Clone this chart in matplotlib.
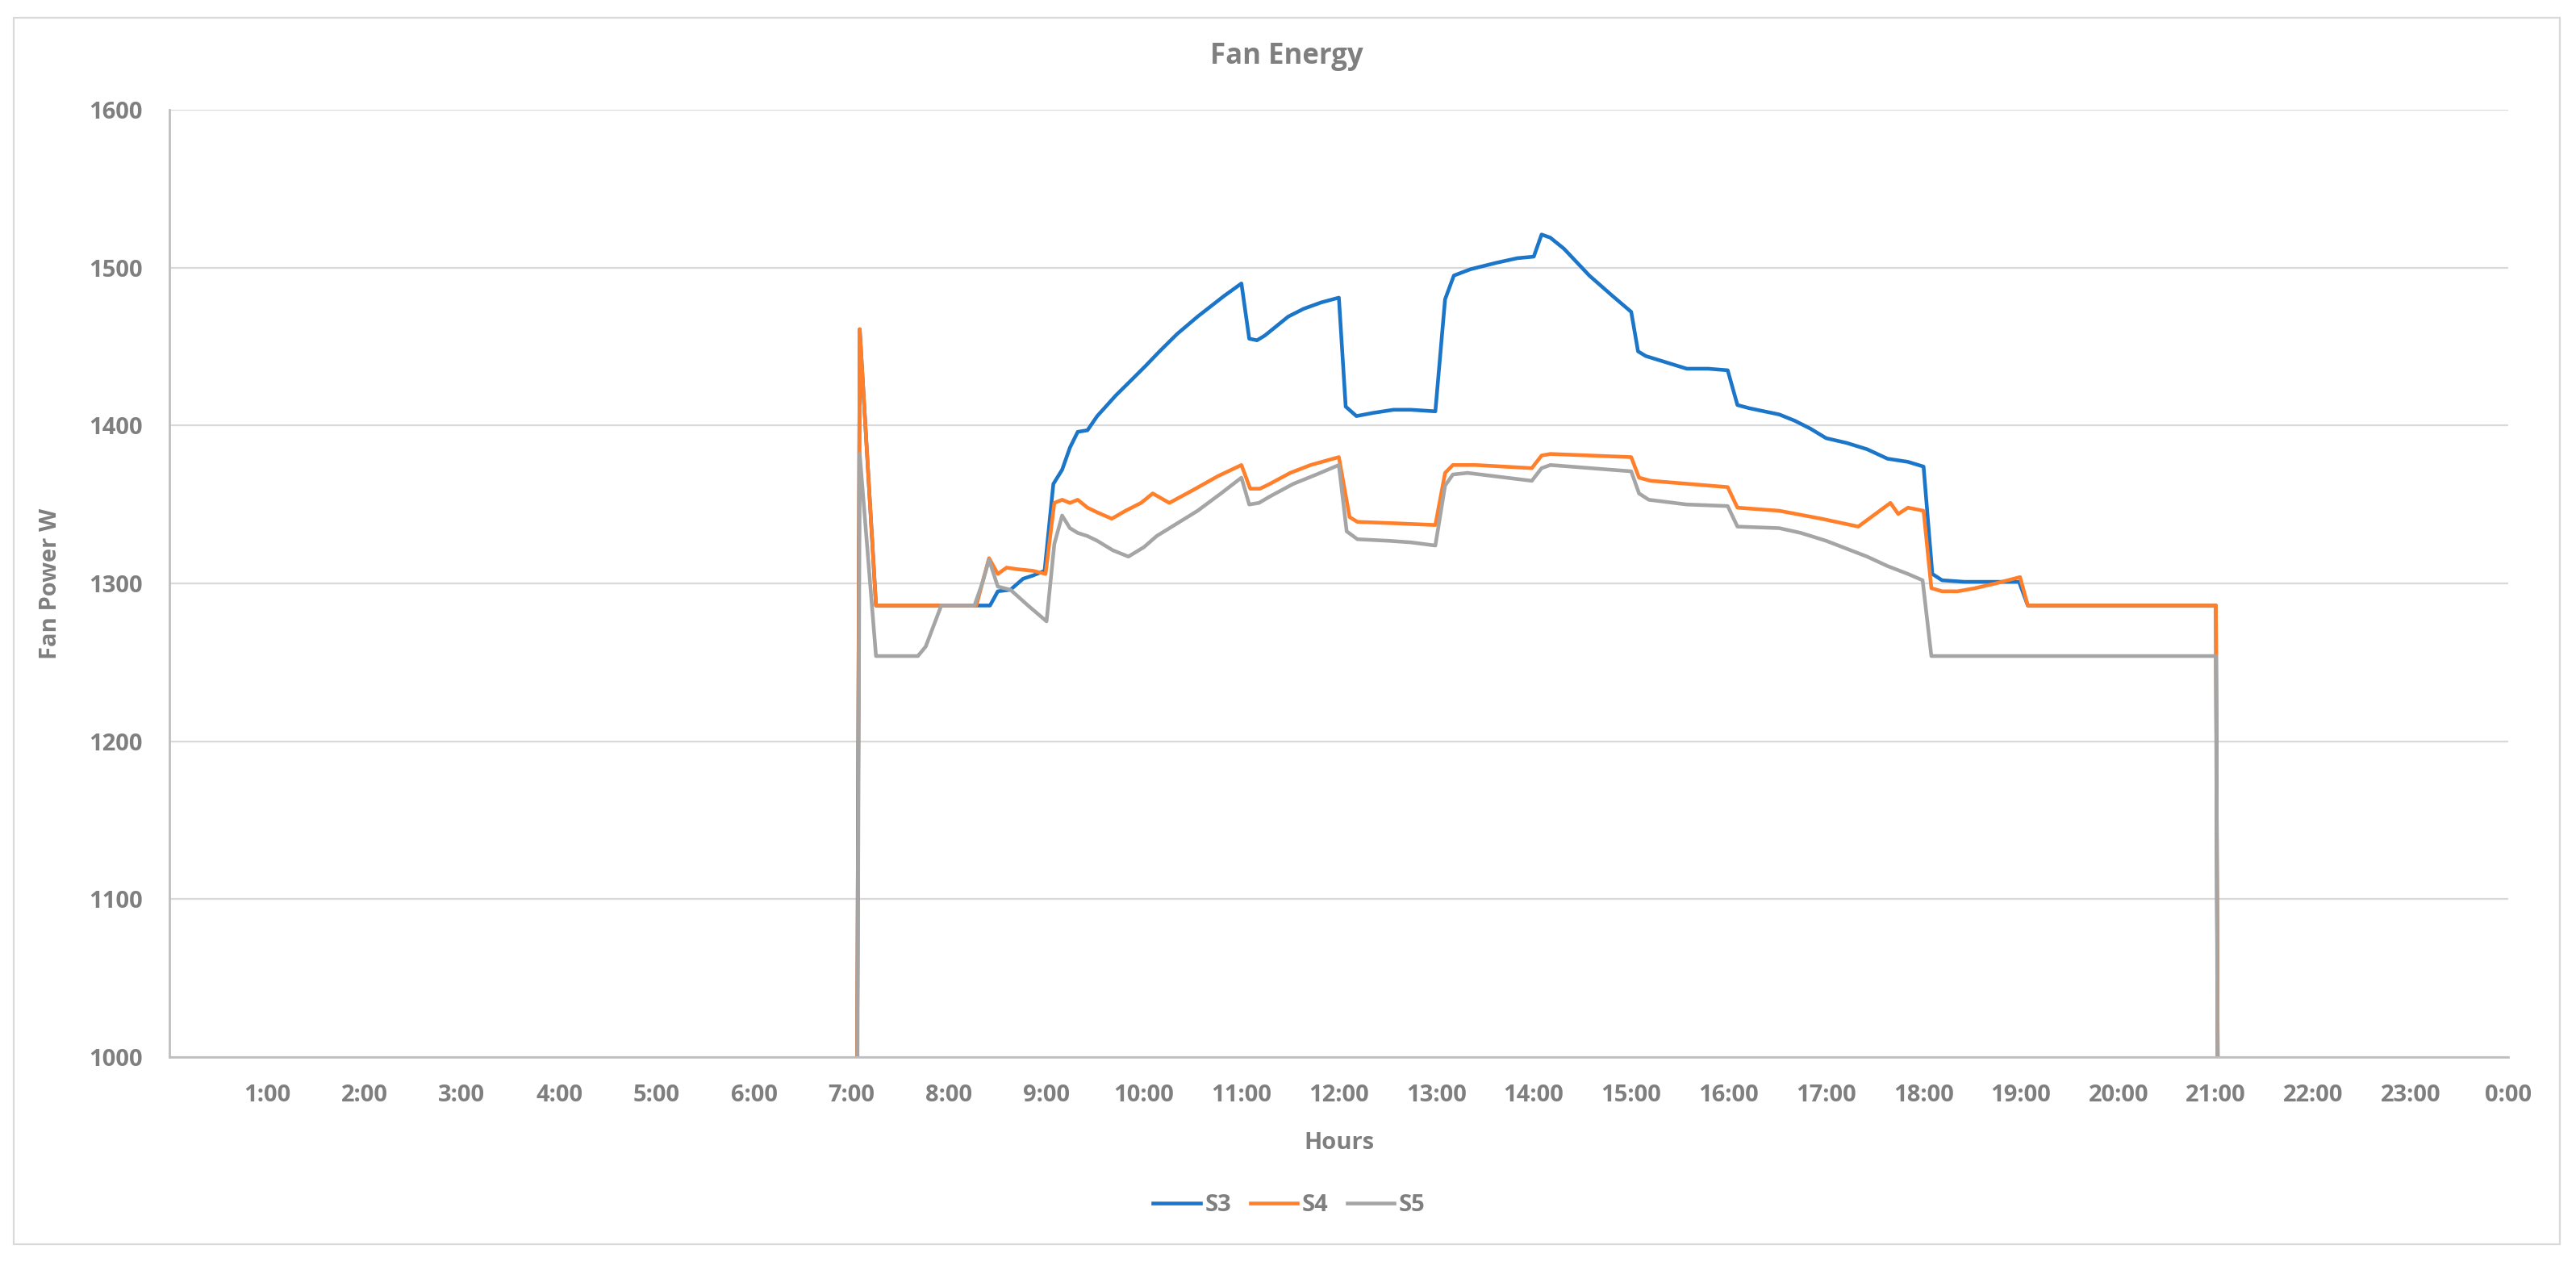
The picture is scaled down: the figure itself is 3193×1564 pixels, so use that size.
import matplotlib
matplotlib.use("Agg")
import matplotlib.pyplot as plt
from matplotlib.patches import Rectangle


# -----------------------------
# DATA (hours of day, fan power in W)
# -----------------------------

s3_hours = [0, 7.0, 7.083, 7.25, 8.42, 8.50, 8.63, 8.76, 8.86, 8.98,
            9.07, 9.16, 9.24, 9.32, 9.42, 9.52, 9.71, 9.89, 10.02, 10.16,
            10.34, 10.55, 10.82, 11.0, 11.08, 11.16, 11.24, 11.48, 11.64, 11.82,
            12.0, 12.07, 12.18, 12.35, 12.56, 12.74, 12.99, 13.09, 13.18, 13.35,
            13.61, 13.83, 14.0, 14.08, 14.17, 14.31, 14.57, 14.81, 15.0, 15.07,
            15.15, 15.36, 15.57, 15.79, 15.99, 16.09, 16.21, 16.52, 16.68, 16.84,
            17.0, 17.21, 17.42, 17.63, 17.84, 18.0, 18.09, 18.19, 18.42, 18.74,
            18.98, 19.07, 21.0, 21.083, 24]
s3_power = [0, 0, 1461, 1286, 1286, 1295, 1296, 1303, 1305, 1308,
            1363, 1372, 1386, 1396, 1397, 1406, 1419, 1430, 1438, 1447,
            1458, 1469, 1482, 1490, 1455, 1454, 1457, 1469, 1474, 1478,
            1481, 1412, 1406, 1408, 1410, 1410, 1409, 1480, 1495, 1499,
            1503, 1506, 1507, 1521, 1519, 1512, 1495, 1482, 1472, 1447,
            1444, 1440, 1436, 1436, 1435, 1413, 1411, 1407, 1403, 1398,
            1392, 1389, 1385, 1379, 1377, 1374, 1306, 1302, 1301, 1301,
            1301, 1286, 1286, 0, 0]

s4_hours = [0, 7.0, 7.083, 7.25, 8.28, 8.34, 8.41, 8.50, 8.59, 8.70,
            8.86, 8.99, 9.08, 9.16, 9.24, 9.32, 9.42, 9.52, 9.67, 9.81,
            9.97, 10.09, 10.26, 10.50, 10.76, 11.0, 11.09, 11.19, 11.29, 11.50,
            11.71, 12.0, 12.11, 12.19, 12.61, 12.99, 13.09, 13.17, 13.40, 13.98,
            14.08, 14.17, 15.0, 15.08, 15.20, 15.99, 16.09, 16.52, 16.95, 17.33,
            17.66, 17.74, 17.84, 18.0, 18.08, 18.19, 18.35, 18.53, 18.74, 18.99,
            19.07, 21.0, 21.083, 24]
s4_power = [0, 0, 1461, 1286, 1286, 1300, 1316, 1306, 1310, 1309,
            1308, 1306, 1351, 1353, 1351, 1353, 1348, 1345, 1341, 1346,
            1351, 1357, 1351, 1359, 1368, 1375, 1360, 1360, 1363, 1370,
            1375, 1380, 1342, 1339, 1338, 1337, 1370, 1375, 1375, 1373,
            1381, 1382, 1380, 1367, 1365, 1361, 1348, 1346, 1341, 1336,
            1351, 1344, 1348, 1346, 1297, 1295, 1295, 1297, 1300, 1304,
            1286, 1286, 0, 0]

s5_hours = [0, 7.0, 7.083, 7.25, 7.68, 7.76, 7.92, 8.26, 8.34, 8.41,
            8.50, 8.63, 8.81, 9.0, 9.08, 9.16, 9.24, 9.32, 9.42, 9.52,
            9.68, 9.84, 10.0, 10.13, 10.34, 10.55, 10.79, 11.0, 11.08, 11.18,
            11.29, 11.53, 11.77, 12.0, 12.08, 12.19, 12.51, 12.74, 12.99, 13.09,
            13.17, 13.32, 13.98, 14.08, 14.17, 15.0, 15.08, 15.18, 15.57, 15.99,
            16.09, 16.52, 16.74, 17.0, 17.21, 17.42, 17.63, 17.84, 17.99, 18.08,
            21.0, 21.083, 24]
s5_power = [0, 0, 1382, 1254, 1254, 1260, 1286, 1286, 1300, 1315,
            1298, 1296, 1286, 1276, 1325, 1343, 1335, 1332, 1330, 1327,
            1321, 1317, 1323, 1330, 1338, 1346, 1357, 1367, 1350, 1351,
            1355, 1363, 1369, 1375, 1333, 1328, 1327, 1326, 1324, 1362,
            1369, 1370, 1365, 1373, 1375, 1371, 1357, 1353, 1350, 1349,
            1336, 1335, 1332, 1327, 1322, 1317, 1311, 1306, 1302, 1254,
            1254, 0, 0]

series_names = ["S3", "S4", "S5"]
series_colors = ["#1B75C9", "#FF7F2A", "#A5A5A5"]

hour_ticks = list(range(1, 25))
hour_labels = [f"{h % 24}:00" for h in hour_ticks]
power_ticks = [1000, 1100, 1200, 1300, 1400, 1500, 1600]

TEXT = "#7f7f7f"
plt.rcParams['font.family'] = ['Open Sans', 'DejaVu Sans']
plt.rcParams['font.weight'] = 'bold'


# -----------------------------
# PLOT
# -----------------------------

fig = plt.figure(figsize=(31.93, 15.64), dpi=100)
ax = fig.add_axes([0.0658, 0.1624, 0.9079, 0.7506])

# outer chart border, Excel style
fig.patches.append(Rectangle((0.0053, 0.0141), 0.9884, 0.9718, transform=fig.transFigure,
                             fill=False, edgecolor="#D9D9D9", linewidth=1.6))

data = [(s3_hours, s3_power), (s4_hours, s4_power), (s5_hours, s5_power)]
for (hrs, pwr), name, col in zip(data, series_names, series_colors):
    ax.plot(hrs, pwr, color=col, linewidth=3.3, label=name, solid_joinstyle='round')

ax.set_xlim(0, 24)
ax.set_ylim(1000, 1600)
ax.set_xticks(hour_ticks)
ax.set_xticklabels(hour_labels)
ax.set_yticks(power_ticks)

ax.grid(axis='y', color="#D9D9D9", linewidth=1.6)
ax.set_axisbelow(True)
for side in ["top", "right"]:
    ax.spines[side].set_visible(False)
for side in ["left", "bottom"]:
    ax.spines[side].set_color("#BFBFBF")
    ax.spines[side].set_linewidth(2)

ax.tick_params(axis='both', length=0, labelsize=21, labelcolor=TEXT)
ax.tick_params(axis='y', pad=24)
ax.tick_params(axis='x', pad=24)
for lbl in ax.get_xticklabels() + ax.get_yticklabels():
    lbl.set_fontweight('bold')

ax.set_xlabel("Hours", fontsize=21, color=TEXT, fontweight='bold')
ax.set_ylabel("Fan Power W", fontsize=21, color=TEXT, fontweight='bold')
ax.xaxis.set_label_coords(0.5, -0.078)
ax.yaxis.set_label_coords(-0.0459, 0.5)

fig.text(0.4995, 0.9552, "Fan Energy", ha='center', va='center', fontsize=25,
         color=TEXT, fontweight='bold')

leg = fig.legend(loc='center', bbox_to_anchor=(0.5005, 0.0448), ncol=3, frameon=False,
                 prop={'size': 21, 'weight': 'bold'}, handlelength=2.0,
                 handletextpad=0.2, columnspacing=0.8)
for t in leg.get_texts():
    t.set_color(TEXT)

fig.savefig("out.png", dpi=100)
